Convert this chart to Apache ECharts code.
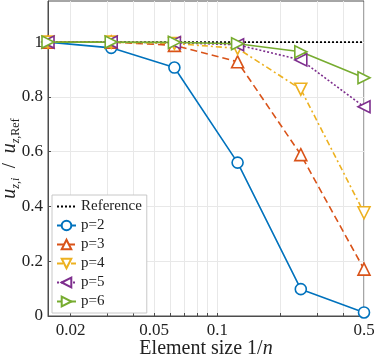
<!DOCTYPE html>
<html>
<head>
<meta charset="utf-8">
<script src="https://cdn.jsdelivr.net/npm/echarts@6/dist/echarts.min.js"></script>
<style>
  html, body { margin: 0; padding: 0; background: #fff; }
  #chart { width: 374px; height: 362px; }
</style>
</head>
<body>
<div id="chart"></div>
<script>
// element size 1/n
const elementSize = [1 / 64, 1 / 32, 1 / 16, 1 / 8, 1 / 4, 1 / 2];

// normalised displacement u_z,i / u_z,Ref
const refValues = [1, 1, 1, 1, 1, 1];
const p2 = [1.0, 0.979, 0.907, 0.56, 0.098, 0.013];
const p3 = [1.0, 1.0, 0.988, 0.928, 0.589, 0.171];
const p4 = [1.0, 1.0, 0.995, 0.977, 0.828, 0.377];
const p5 = [1.0, 1.0, 0.998, 0.99, 0.935, 0.764];
const p6 = [1.0, 1.0, 0.999, 0.994, 0.965, 0.870];

const xTickValues = [0.02, 0.03, 0.04, 0.05, 0.06, 0.07, 0.08, 0.09, 0.1, 0.2, 0.3, 0.4, 0.5];
const xLabelValues = [0.02, 0.05, 0.1, 0.5];
const yTickValues = [0, 0.2, 0.4, 0.6, 0.8, 1];

const font = "'Liberation Serif', 'Times New Roman', serif";
const colors = ["#0072BD", "#D95319", "#EDB120", "#7E2F8E", "#77AC30"];

function pairs(ys) {
  return elementSize.map((x, i) => [x, ys[i]]);
}

function pSeries(name, ys, color, dash, symbol, rotate, size) {
  return {
    name: name,
    type: "line",
    data: pairs(ys),
    symbol: symbol,
    symbolSize: size,
    symbolRotate: rotate,
    lineStyle: { color: color, width: 1.6, type: dash },
    itemStyle: { color: "#fff", borderColor: color, borderWidth: 1.6 },
    z: 3
  };
}

const chart = echarts.init(document.getElementById("chart"));

const option = {
  animation: false,
  textStyle: { fontFamily: font },
  grid: {
    left: 48,
    right: 10,
    top: 1,
    bottom: 46,
    outerBoundsMode: "none",
    containLabel: false,
    show: true,
    borderColor: "#4d4d4d",
    borderWidth: 1
  },
  xAxis: {
    type: "log",
    logBase: 10,
    min: 1 / 64,
    max: 0.5,
    axisLine: { show: true, lineStyle: { color: "#4d4d4d" } },
    axisTick: {
      show: true,
      inside: true,
      length: 3,
      customValues: xTickValues,
      lineStyle: { color: "#4d4d4d" }
    },
    axisLabel: {
      customValues: xLabelValues,
      color: "#222",
      fontSize: 17,
      fontFamily: font,
      margin: 6,
      formatter: v => String(Math.round(v * 100) / 100)
    },
    splitLine: { show: true, lineStyle: { color: "#e8e8e8", width: 1 } },
    name: "{t|Element size 1/}{i|n}",
    nameLocation: "middle",
    nameGap: 23,
    nameMoveOverlap: false,
    nameTextStyle: {
      rich: {
        t: { fontFamily: font, fontSize: 20, color: "#222" },
        i: { fontFamily: font, fontSize: 20, fontStyle: "italic", color: "#222" }
      }
    }
  },
  yAxis: {
    type: "value",
    min: 0,
    max: 1.15,
    axisLine: { show: true, lineStyle: { color: "#4d4d4d" } },
    axisTick: {
      show: true,
      inside: true,
      length: 3,
      customValues: yTickValues,
      lineStyle: { color: "#4d4d4d" }
    },
    axisLabel: {
      customValues: yTickValues,
      color: "#222",
      fontSize: 17,
      fontFamily: font,
      margin: 5,
      formatter: v => String(Math.round(v * 10) / 10)
    },
    splitLine: { show: true, lineStyle: { color: "#e8e8e8", width: 1 } },
    name: "{u|u}{s|z,i}{n|  /  }{u|u}{s|z,}{r|Ref}",
    nameLocation: "middle",
    nameRotate: 90,
    nameGap: 26,
    nameMoveOverlap: false,
    nameTextStyle: {
      rich: {
        u: { fontFamily: font, fontSize: 20, fontStyle: "italic", color: "#222", lineHeight: 24, verticalAlign: "middle" },
        s: { fontFamily: font, fontSize: 12, fontStyle: "italic", color: "#222", lineHeight: 24, verticalAlign: "bottom" },
        r: { fontFamily: font, fontSize: 12, color: "#222", lineHeight: 24, verticalAlign: "bottom" },
        n: { fontFamily: font, fontSize: 19, color: "#222", lineHeight: 24 }
      }
    }
  },
  legend: {
    show: true,
    orient: "vertical",
    left: 52,
    top: 195,
    itemWidth: 19,
    itemHeight: 12,
    itemGap: 4,
    padding: [4, 5, 4, 4],
    backgroundColor: "#fff",
    borderColor: "#c8c8c8",
    borderWidth: 1,
    textStyle: { fontFamily: font, fontSize: 15, color: "#222" },
    data: [
      { name: "Reference", itemStyle: { opacity: 0 } },
      "p=2", "p=3", "p=4", "p=5", "p=6"
    ]
  },
  series: [
    {
      name: "Reference",
      type: "line",
      data: pairs(refValues),
      symbol: "none",
      lineStyle: { color: "#000", width: 1.6, type: [2, 2] },
      itemStyle: { color: "#000" },
      z: 2
    },
    pSeries("p=2", p2, colors[0], "solid", "circle", 0, 11),
    pSeries("p=3", p3, colors[1], [7, 4], "triangle", 0, 12),
    pSeries("p=4", p4, colors[2], [6, 3, 2, 3], "triangle", 180, 12),
    pSeries("p=5", p5, colors[3], [2, 2], "triangle", 90, 12),
    pSeries("p=6", p6, colors[4], "solid", "triangle", -90, 12)
  ]
};

chart.setOption(option);
</script>
</body>
</html>
